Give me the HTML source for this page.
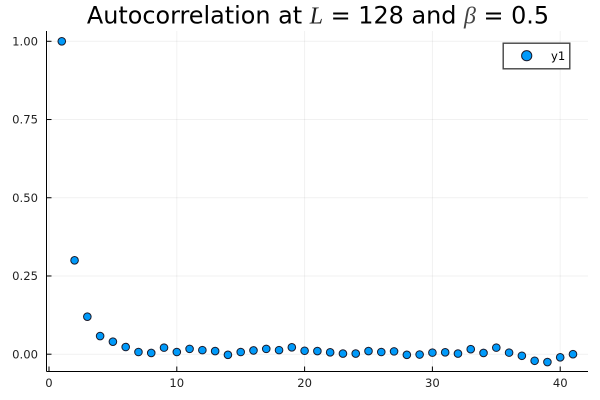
<!DOCTYPE html>
<html>
<head>
<meta charset="utf-8">
<style>
html,body{margin:0;padding:0;background:#fff}
svg{display:block}
text{font-family:"DejaVu Sans","Liberation Sans",sans-serif;fill:#000}
.tick{font-size:11.6px;fill:#222}
</style>
</head>
<body>
<svg id="chart" width="600" height="400" viewBox="0 0 600 400">
  <rect width="600" height="400" fill="#fff"/>
  <text x="318" y="23.5" text-anchor="middle" font-size="23.9">Autocorrelation at <tspan font-family="Liberation Serif" font-style="italic" fill="#222">L</tspan> = 128 and <tspan font-family="Liberation Serif" font-style="italic" fill="#444">β</tspan> = 0.5</text>
  <g id="grid"></g>
  <g id="axes"></g>
  <g id="points"></g>
  <g>
    <rect x="503.2" y="43.2" width="66.6" height="25.6" fill="#fff" stroke="#444" stroke-width="1.4"/>
    <circle cx="526.7" cy="55.7" r="5.1" fill="#009AFA" stroke="#1a1a2a" stroke-width="1"/>
    <text x="551" y="60" font-size="11.6" fill="#222">y1</text>
  </g>
</svg>
<script>
const lags = [1,2,3,4,5,6,7,8,9,10,11,12,13,14,15,16,17,18,19,20,21,22,23,24,25,26,27,28,29,30,31,32,33,34,35,36,37,38,39,40,41];
const autocorrelation = [1.0,0.30,0.12,0.058,0.04,0.023,0.007,0.004,0.021,0.007,0.017,0.013,0.01,-0.002,0.007,0.012,0.017,0.013,0.022,0.011,0.01,0.006,0.002,0.002,0.01,0.007,0.009,-0.002,-0.001,0.005,0.006,0.002,0.016,0.004,0.021,0.005,-0.005,-0.021,-0.025,-0.01,0];
const xTicks = [0,10,20,30,40];
const yTicks = [0,0.25,0.5,0.75,1];

const NS = 'http://www.w3.org/2000/svg';
const plotLeft = 46.5, plotRight = 588, plotTop = 31, plotBottom = 371.5;
function xScale(v){ return 49 + v * 12.78; }
function yScale(v){ return 354.2 - v * 312.9; }
function make(tag, attrs, parent){
  const el = document.createElementNS(NS, tag);
  for (const k in attrs) el.setAttribute(k, attrs[k]);
  parent.appendChild(el);
  return el;
}
const grid = document.getElementById('grid');
const axes = document.getElementById('axes');
const points = document.getElementById('points');

xTicks.forEach(function(t){
  const x = xScale(t);
  const g = make('line', {x1:x, x2:x, y1:plotTop, y2:plotBottom, stroke:'#000', 'stroke-opacity':0.055, 'stroke-width':1}, grid);
  
  
  const m = make('line', {x1:x, x2:x, y1:plotBottom, y2:plotBottom-5, stroke:'#000', 'stroke-width':1}, axes);
  
  
  const l = make('text', {x:x, y:387, 'text-anchor':'middle', class:'tick'}, axes);
  l.textContent = String(t);
  
  
});
yTicks.forEach(function(t){
  const y = yScale(t);
  const g = make('line', {x1:plotLeft, x2:plotRight, y1:y, y2:y, stroke:'#000', 'stroke-opacity':0.055, 'stroke-width':1}, grid);
  
  
  const m = make('line', {x1:plotLeft, x2:plotLeft+5, y1:y, y2:y, stroke:'#000', 'stroke-width':1}, axes);
  
  
  const l = make('text', {x:38, y:y+4.2, 'text-anchor':'end', class:'tick'}, axes);
  l.textContent = t.toFixed(2);
  
  
});
const xAxis = make('line', {x1:plotLeft, x2:plotRight, y1:plotBottom, y2:plotBottom, stroke:'#000', 'stroke-width':1}, axes);


const yAxis = make('line', {x1:plotLeft, x2:plotLeft, y1:plotTop, y2:plotBottom, stroke:'#000', 'stroke-width':1}, axes);



lags.forEach(function(lag, i){
  const c = make('circle', {cx:xScale(lag), cy:yScale(autocorrelation[i]), r:3.8, fill:'#009AFA', stroke:'#1a1a2a', 'stroke-width':1}, points);
  
  
});
</script>
</body>
</html>
